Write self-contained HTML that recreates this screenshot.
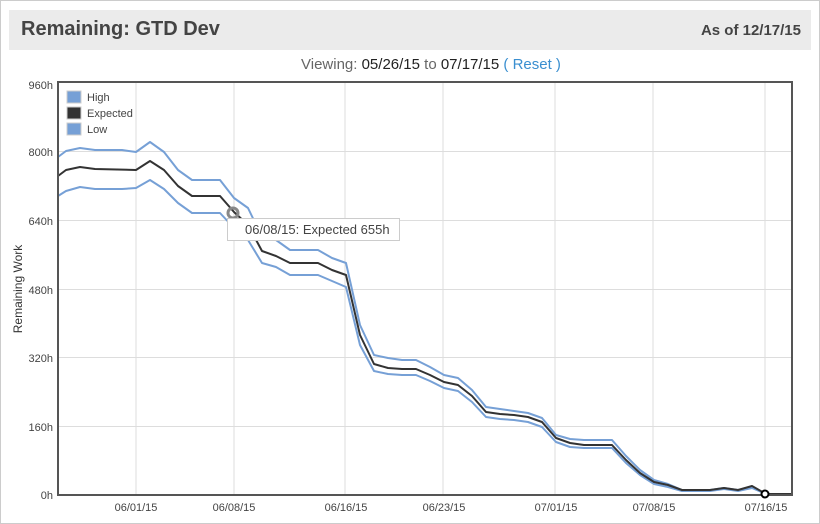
<!DOCTYPE html>
<html><head><style>
body{margin:0;width:820px;height:524px;overflow:hidden;background:#fff;font-family:"Liberation Sans",sans-serif}
.frame{position:absolute;left:0;top:0;width:818px;height:522px;border:1px solid #ccc}
.hdr{position:absolute;left:9px;top:10px;width:802px;height:40px;background:#ebebeb}
.t{position:absolute;left:12px;top:8px;font-size:20px;font-weight:bold;color:#444}
.a{position:absolute;right:10px;top:12px;font-size:15px;font-weight:bold;color:#444}
.v{position:absolute;left:301px;top:56px;font-size:15px;color:#666}
.v b{font-weight:normal;color:#222}.v i{font-style:normal;color:#3a8fd0}
</style></head><body>
<div class="frame"></div>
<div class="hdr"><div class="t">Remaining: GTD Dev</div><div class="a">As of 12/17/15</div></div>
<div class="v">Viewing: <b>05/26/15</b> to <b>07/17/15</b> <i>( Reset )</i></div>
<svg width="820" height="524" style="position:absolute;left:0;top:0" font-family="Liberation Sans, sans-serif">
<g stroke="#ddd" stroke-width="1">
<line x1="58" x2="792" y1="151.5" y2="151.5"/><line x1="58" x2="792" y1="220.5" y2="220.5"/><line x1="58" x2="792" y1="289.5" y2="289.5"/><line x1="58" x2="792" y1="357.5" y2="357.5"/><line x1="58" x2="792" y1="426.5" y2="426.5"/>
<line x1="136" x2="136" y1="82" y2="495"/><line x1="234" x2="234" y1="82" y2="495"/><line x1="345" x2="345" y1="82" y2="495"/><line x1="443" x2="443" y1="82" y2="495"/><line x1="555" x2="555" y1="82" y2="495"/><line x1="653" x2="653" y1="82" y2="495"/><line x1="765" x2="765" y1="82" y2="495"/>
</g>
<g font-size="11" fill="#444" text-anchor="end">
<text x="53" y="89">960h</text><text x="53" y="156">800h</text><text x="53" y="225">640h</text><text x="53" y="294">480h</text><text x="53" y="362">320h</text><text x="53" y="431">160h</text><text x="53" y="499">0h</text>
</g>
<g font-size="11" fill="#444" text-anchor="middle">
<text x="136" y="511">06/01/15</text><text x="234" y="511">06/08/15</text><text x="346" y="511">06/16/15</text><text x="444" y="511">06/23/15</text><text x="556" y="511">07/01/15</text><text x="654" y="511">07/08/15</text><text x="766" y="511">07/16/15</text>
</g>
<text transform="translate(22,289) rotate(-90)" font-size="12" fill="#333" text-anchor="middle">Remaining Work</text>
<g fill="none" stroke-width="2" stroke-linejoin="round">
<polyline stroke="#76a0d6" points="58,157 66,151 80,148 95,150 122,150 136,152 150,142 164,152 178,170 192,180 220,180 234,198 248,208 262,237 276,240 290,250 318,250 332,258 346,263 360,325 374,355 388,358 402,360 416,360 430,367 444,375 458,378 472,390 486,407 500,409 514,411 528,413 542,418 556,435 570,439 584,440 612,440 626,456 640,470 654,480 668,484 682,490 710,490 724,488 738,490 752,487 766,494 792,494"/>
<polyline stroke="#76a0d6" points="58,196 66,191 80,187 95,189 122,189 136,188 150,180 164,189 178,203 192,213 220,213 234,228 248,240 262,263 276,267 290,275 318,275 332,281 346,287 360,345 374,371 388,374 402,375 416,375 430,381 444,388 458,391 472,402 486,417 500,419 514,420 528,422 542,427 556,442 570,447 584,448 612,448 626,463 640,475 654,484 668,487 682,491 710,491 724,489 738,491 752,488 766,494 792,494"/>
<polyline stroke="#333" points="58,176 66,170 80,167 95,169 136,170 150,161 164,170 178,186 192,196 220,196 234,212 248,225 262,251 276,256 290,263 318,263 332,270 346,275 360,335 374,364 388,368 402,369 416,369 430,375 444,382 458,385 472,396 486,412 500,414 514,415 528,417 542,422 556,438 570,443 584,445 612,445 626,460 640,473 654,482 668,485 682,490 710,490 724,488 738,490 752,486 766,494 792,494"/>
</g>
<path d="M58 82V495H792V82Z" fill="none" stroke="#555" stroke-width="2"/>
<g font-size="11" fill="#444">
<rect x="67" y="91" width="14" height="12" fill="#76a0d6" stroke="#ccc"/><text x="87" y="101">High</text>
<rect x="67" y="107" width="14" height="12" fill="#333" stroke="#ccc"/><text x="87" y="117">Expected</text>
<rect x="67" y="123" width="14" height="12" fill="#76a0d6" stroke="#ccc"/><text x="87" y="133">Low</text>
</g>
<circle cx="233" cy="213" r="5" fill="none" stroke="#888" stroke-width="3"/>
<rect x="227.5" y="218.5" width="172" height="22" fill="#fff" stroke="#ccc"/>
<text x="245" y="234" font-size="13" fill="#444">06/08/15: Expected 655h</text>
<circle cx="765" cy="494" r="3.5" fill="#fff" stroke="#000" stroke-width="2"/>
</svg>
</body></html>
